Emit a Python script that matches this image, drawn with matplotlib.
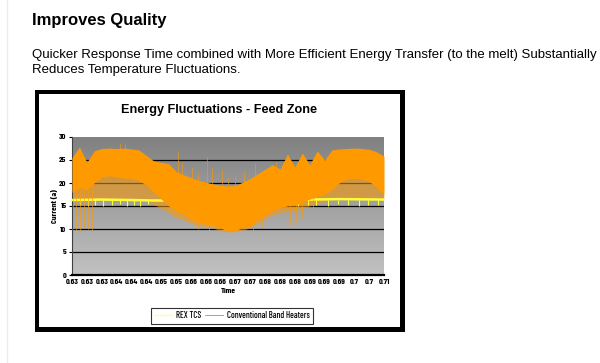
import numpy as np
import matplotlib
matplotlib.use('Agg')
import matplotlib.pyplot as plt
from matplotlib import font_manager
from matplotlib.patches import Rectangle
from matplotlib.lines import Line2D

# Category tick labels on the time axis
time_labels = ['0.63', '0.63', '0.63', '0.64', '0.64', '0.64', '0.65', '0.65',
               '0.66', '0.66', '0.66', '0.67', '0.67', '0.68', '0.68', '0.68',
               '0.69', '0.69', '0.69', '0.7', '0.7', '0.71']

# Conventional band heaters: envelope of the dense trace, read at every half category step
t_grid = [i * 0.5 for i in range(43)]
conv_high = [25.5, 27.8, 24.5, 27.0, 27.5, 27.6, 27.5, 27.6, 27.4, 27.2,
             26.0, 24.8, 24.5, 24.2, 22.5, 21.8, 21.2, 20.6, 20.2, 19.8,
             19.5, 19.3, 19.5, 20.2, 21.0, 22.0, 23.0, 24.0, 23.0, 26.3,
             23.5, 26.5, 24.0, 27.0, 25.0, 27.2, 27.4, 27.5, 27.6, 27.5,
             27.3, 26.8, 25.8]
conv_low = [18.0, 19.0, 18.5, 20.0, 21.2, 21.5, 21.3, 21.0, 21.0, 20.5,
            19.5, 18.0, 16.5, 15.0, 13.8, 13.2, 12.0, 11.5, 11.0, 10.8,
            10.2, 9.4, 9.5, 10.4, 10.6, 12.0, 13.0, 14.0, 14.6, 15.0,
            15.2, 15.8, 16.5, 17.0, 17.5, 18.5, 20.0, 20.8, 21.0, 20.8,
            20.3, 19.0, 17.5]
conv_haze = [16.5, 16.5, 16.3, 16.5, 16.4, 16.4, 16.3, 16.4, 16.3, 16.3,
             16.0, 15.3, 14.5, 13.5, 12.5, 12.0, 11.2, 10.8, 10.4, 10.2,
             9.6, 9.4, 9.4, 9.8, 10.2, 11.2, 12.2, 13.0, 13.5, 13.8,
             14.0, 14.5, 15.0, 15.5, 16.0, 16.3, 16.5, 16.5, 16.5, 16.5,
             16.5, 16.5, 16.5]

# Single spikes of the conventional trace
spike_t = [0.1, 0.3, 0.55, 0.8, 1.05, 1.35, 3.2, 3.6,
           6.06, 6.4, 7.13, 7.4, 8.08, 8.5, 8.6, 9.1, 9.2, 9.4, 10.1, 10.5,
           11.0, 11.6, 12.2, 12.3, 12.8, 13.0, 13.7,
           14.7, 15.1, 15.5, 16.2]
spike_lo = [10.0, 9.8, 9.5, 10.5, 10.0, 9.8, 21.0, 21.0,
            18.0, 17.0, 16.0, 16.0, 15.0, 10.0, 14.0, 14.0, 9.5, 14.0, 14.0, 12.0,
            13.0, 13.0, 9.6, 14.0, 10.5, 15.0, 16.0,
            10.9, 11.5, 12.4, 13.0]
spike_hi = [20.0, 20.0, 20.0, 20.0, 20.0, 24.0, 28.6, 28.4,
            23.9, 22.2, 26.7, 24.6, 23.5, 22.2, 20.0, 25.7, 18.0, 23.3, 22.8, 21.1,
            21.7, 22.4, 20.0, 24.3, 20.0, 22.8, 24.6,
            20.0, 20.0, 20.0, 20.0]

# REX TCS: steady trace with short dips
rex_t = [0, 2, 4, 5.5, 14.2, 16, 18, 21]
rex_y = [16.3, 16.4, 16.3, 16.2, 16.2, 16.4, 16.5, 16.4]
rex_dip_t = [0.55, 1.1, 1.55, 2.1, 2.7, 3.2, 3.7, 4.2, 4.6, 5.1,
             15.2, 15.9, 16.4, 17.2, 17.9, 18.6, 19.3, 19.9, 20.6]
rex_dip_lo = [15.2, 15.0, 15.3, 15.0, 15.2, 15.4, 15.1, 15.3, 15.0, 15.4,
              15.0, 15.2, 15.3, 15.0, 15.4, 15.2, 15.1, 15.3, 15.2]

orange = '#ff9900'
yellow = '#ffff33'

# condensed font for the small chart texts, if there is one
try:
    font_manager.findfont(font_manager.FontProperties(family='Barlow Condensed'),
                          fallback_to_default=False)
    narrow, small = ['Barlow Condensed', 'DejaVu Sans'], 6.0
except ValueError:
    narrow, small = ['Liberation Sans', 'DejaVu Sans'], 4.5

W, H = 600, 363
fig = plt.figure(figsize=(W / 100, H / 100), dpi=100)
fig.patch.set_facecolor('white')

def fx(px):
    return px / W

def fy(py):
    return 1 - py / H

# page text
fig.add_artist(Line2D([fx(7), fx(7)], [0, 1], color='#ececec', lw=1, zorder=-5))
fig.text(fx(32), fy(20), 'Improves Quality', fontsize=12.0, fontweight='bold',
         family='Liberation Sans', va='center', ha='left')
fig.text(fx(32), fy(55), 'Quicker Response Time combined with More Efficient Energy Transfer (to the melt) Substantially',
         fontsize=9.5, family='Liberation Sans', va='center', ha='left')
fig.text(fx(32), fy(70), 'Reduces Temperature Fluctuations.',
         fontsize=9.5, family='Liberation Sans', va='center', ha='left')

# chart frame
fig.add_artist(Rectangle((fx(35), fy(332)), fx(405 - 35), (332 - 90) / H,
                         facecolor='black', edgecolor='none', zorder=-4))
fig.add_artist(Rectangle((fx(39), fy(327)), fx(400 - 39), (327 - 94) / H,
                         facecolor='white', edgecolor='none', zorder=-3))

fig.text(fx(219), fy(110), 'Energy Fluctuations - Feed Zone', fontsize=9.1,
         fontweight='bold', family='Liberation Sans', ha='center', va='center')

ax = fig.add_axes([fx(72), fy(275), fx(384 - 72), (275 - 137) / H])
ax.set_xlim(0, 21)
ax.set_ylim(0, 30)

# plot area gradient
grad = np.linspace(0, 1, 256).reshape(-1, 1)
ax.imshow(grad, extent=[0, 21, 0, 30], aspect='auto', origin='upper',
          cmap=matplotlib.colors.LinearSegmentedColormap.from_list('g', ['#808080', '#c2c2c2']),
          zorder=0)

for g in [5, 10, 15, 20, 25]:
    ax.axhline(g, color='black', lw=0.9, zorder=1)

ax.fill_between(t_grid, conv_haze, conv_low, color=orange, alpha=0.55, lw=0, zorder=2)
ax.plot(rex_t, rex_y, color=yellow, lw=1.8, zorder=3)
ax.vlines(rex_dip_t, rex_dip_lo, 16.3, color=yellow, lw=0.8, zorder=3)
ax.fill_between(t_grid, conv_low, conv_high, color=orange, lw=0, zorder=4)
ax.vlines(spike_t, spike_lo, spike_hi, color=orange, lw=0.7, alpha=0.6, zorder=4)

ax.set_xticks(range(len(time_labels)))
ax.set_xticklabels(time_labels)
ax.set_yticks([0, 5, 10, 15, 20, 25, 30])
for lab in ax.get_xticklabels() + ax.get_yticklabels():
    lab.set_family(narrow)
    lab.set_fontweight('bold')
    lab.set_fontsize(small)
ax.tick_params(axis='x', length=0, pad=3)
ax.tick_params(axis='y', length=2, width=0.8, pad=2)
for s in ['top', 'right']:
    ax.spines[s].set_visible(False)
ax.spines['left'].set_color('#404040')
ax.spines['left'].set_linewidth(0.8)
ax.spines['bottom'].set_linewidth(1.6)

ax.set_xlabel('Time', fontsize=small, fontweight='bold', family=narrow, labelpad=2)
ax.set_ylabel('Current (a)', fontsize=small, fontweight='bold', family=narrow, labelpad=1)

handles = [Line2D([], [], color='#ffff99', lw=1),
           Line2D([], [], color='#cc8833', lw=0.6)]
leg = fig.legend(handles, ['REX TCS', 'Conventional Band Heaters'], loc='center',
                 bbox_to_anchor=(fx(232), fy(316)), ncol=2, frameon=True, fancybox=False,
                 prop={'family': narrow, 'size': small + 0.4, 'weight': 'medium'}, handlelength=2.0,
                 handletextpad=0.4, columnspacing=0.5, borderpad=0.35)
leg.get_frame().set_edgecolor('black')
leg.get_frame().set_linewidth(0.8)

fig.savefig('out.png', dpi=100, facecolor='white')
